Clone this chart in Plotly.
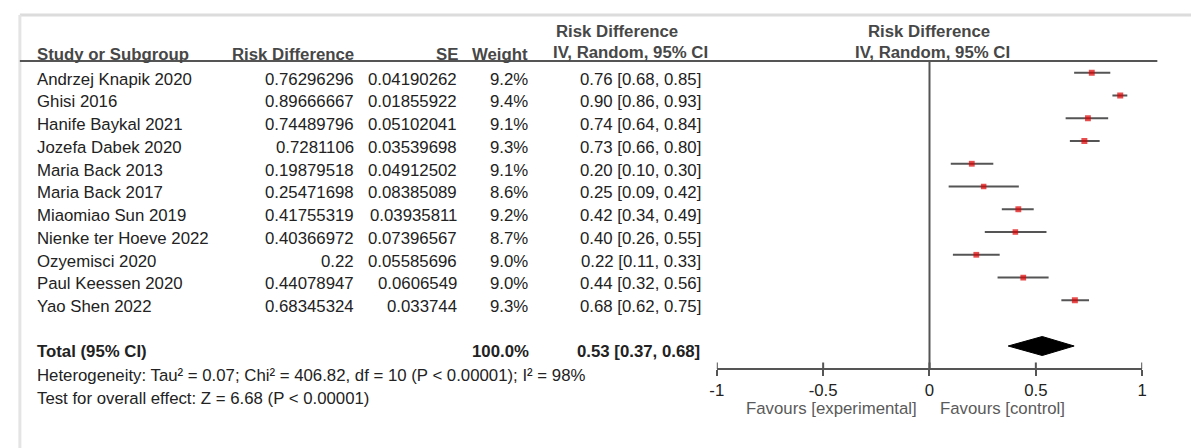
import plotly.graph_objects as go

# ---------------- data ----------------
studies = ["Andrzej Knapik 2020", "Ghisi 2016", "Hanife Baykal 2021", "Jozefa Dabek 2020",
           "Maria Back 2013", "Maria Back 2017", "Miaomiao Sun 2019", "Nienke ter Hoeve 2022",
           "Ozyemisci 2020", "Paul Keessen 2020", "Yao Shen 2022"]
rd = [0.76296296, 0.89666667, 0.74489796, 0.7281106, 0.19879518, 0.25471698,
      0.41755319, 0.40366972, 0.22, 0.44078947, 0.68345324]
se = [0.04190262, 0.01855922, 0.05102041, 0.03539698, 0.04912502, 0.08385089,
      0.03935811, 0.07396567, 0.05585696, 0.0606549, 0.033744]
weight = [9.2, 9.4, 9.1, 9.3, 9.1, 8.6, 9.2, 8.7, 9.0, 9.0, 9.3]
ci_low = [0.68, 0.86, 0.64, 0.66, 0.10, 0.09, 0.34, 0.26, 0.11, 0.32, 0.62]
ci_high = [0.85, 0.93, 0.84, 0.80, 0.30, 0.42, 0.49, 0.55, 0.33, 0.56, 0.75]
total_est, total_low, total_high = 0.53, 0.37, 0.68
total_weight = 100.0
heterogeneity = "Heterogeneity: Tau² = 0.07; Chi² = 406.82, df = 10 (P < 0.00001); I² = 98%"
overall = "Test for overall effect: Z = 6.68 (P < 0.00001)"
tick_vals = [-1, -0.5, 0, 0.5, 1]
tick_text = ["-1", "-0.5", "0", "0.5", "1"]
fav_left = "Favours [experimental]"
fav_right = "Favours [control]"

# ---------------- layout constants (pixels) ----------------
W, H = 1196, 448
FONT = "Arial, Liberation Sans, sans-serif"
FS = 16.8
TXT = "#222222"
HDR = "#474747"
GRID = "#555555"
row0, step = 72.7, 22.76          # mark centre of first study row / row spacing
txt_off = 6.3                     # text centre sits a bit lower than the mark
total_y = 346
axis_y = 369
hdr_line_y = 61
x_left_px, x_right_px = 717, 1146.7

def px(x):
    return x / W

def py(y):
    return 1 - y / H

row_y = [row0 + i * step for i in range(len(studies))]

fig = go.Figure()

# whiskers
wx, wy = [], []
for lo, hi, y in zip(ci_low, ci_high, row_y):
    wx += [lo, hi, None]
    wy += [y, y, None]
fig.add_trace(go.Scatter(x=wx, y=wy, mode="lines",
                         line=dict(color=GRID, width=2), hoverinfo="skip"))
# squares
fig.add_trace(go.Scatter(x=rd, y=row_y, mode="markers",
                         marker=dict(symbol="square", color="#e00000",
                                     size=[w * 0.64 for w in weight], line=dict(width=0)),
                         hoverinfo="skip"))
# diamond
fig.add_trace(go.Scatter(x=[total_low, total_est, total_high, total_est, total_low],
                         y=[total_y, total_y - 9.5, total_y, total_y + 9.5, total_y],
                         mode="lines", fill="toself", fillcolor="black",
                         line=dict(color="black", width=1), hoverinfo="skip"))
# tick stubs above the axis
tx, ty = [], []
for t in tick_vals:
    tx += [t, t, None]
    ty += [axis_y - 6.5, axis_y, None]
fig.add_trace(go.Scatter(x=tx, y=ty, mode="lines",
                         line=dict(color=GRID, width=2), hoverinfo="skip"))

shapes = []
# frame
shapes.append(dict(type="line", xref="paper", yref="paper", x0=px(13), x1=1, y0=py(15), y1=py(15),
                   line=dict(color="#dcdcdc", width=3)))
shapes.append(dict(type="line", xref="paper", yref="paper", x0=px(13), x1=px(13), y0=py(15), y1=0,
                   line=dict(color="#e4e4e4", width=3)))
# header underline
shapes.append(dict(type="line", xref="paper", yref="paper", x0=px(13), x1=px(1162),
                   y0=py(hdr_line_y), y1=py(hdr_line_y), line=dict(color=GRID, width=2)))
# zero line
shapes.append(dict(type="line", xref="x", yref="y", x0=0, x1=0, y0=hdr_line_y, y1=axis_y,
                   line=dict(color=GRID, width=2)))

ann = []

def text(x, y, s, anchor="left", bold=False, color=TXT, size=FS):
    ann.append(dict(xref="paper", yref="paper", x=px(x), y=py(y), text=("<b>%s</b>" % s) if bold else s,
                    xanchor=anchor, yanchor="middle", showarrow=False,
                    font=dict(family=FONT, size=size, color=color)))

# headers
text(28, 54, "Study or Subgroup", bold=True, color=HDR)
text(353, 54, "Risk Difference", "right", bold=True, color=HDR)
text(458, 54, "SE", "right", bold=True, color=HDR)
text(528, 54, "Weight", "right", bold=True, color=HDR)
text(616, 31, "Risk Difference", "center", bold=True, color=HDR)
text(630, 53, "IV, Random, 95% CI", "center", bold=True, color=HDR)
text(931, 31, "Risk Difference", "center", bold=True, color=HDR)
text(935, 53, "IV, Random, 95% CI", "center", bold=True, color=HDR)

# study rows
for i, name in enumerate(studies):
    y = row_y[i] + txt_off
    text(28, y, name)
    text(353, y, str(rd[i]), "right")
    text(457, y, str(se[i]), "right")
    text(528, y, "%.1f%%" % weight[i], "right")
    text(703, y, "%.2f [%.2f, %.2f]" % (rd[i], ci_low[i], ci_high[i]), "right")

# total
ty_t = total_y + 5
text(28, ty_t, "Total (95% CI)", bold=True)
text(529, ty_t, "%.1f%%" % total_weight, "right", bold=True)
text(702, ty_t, "%.2f [%.2f, %.2f]" % (total_est, total_low, total_high), "right", bold=True)
text(28, 375, heterogeneity)
text(28, 398, overall)

# favours
text(921, 408, fav_left, "right", color="#5a5a5a")
text(940, 408, fav_right, "left", color="#5a5a5a")

fig.update_layout(
    width=W, height=H, autosize=False,
    margin=dict(l=0, r=0, t=0, b=0),
    paper_bgcolor="white", plot_bgcolor="rgba(0,0,0,0)",
    showlegend=False,
    shapes=shapes, annotations=ann,
    xaxis=dict(domain=[px(x_left_px), px(x_right_px)], range=[-1, 1],
               anchor="free", position=py(axis_y),
               showline=True, linecolor=GRID, linewidth=2,
               ticks="outside", ticklen=6, tickwidth=2, tickcolor=GRID,
               tickvals=tick_vals, ticktext=tick_text,
               tickfont=dict(family=FONT, size=FS, color=TXT),
               showgrid=False, zeroline=False, fixedrange=True),
    yaxis=dict(domain=[0, 1], range=[H, 0], visible=False, fixedrange=True),
)

fig.write_html("out.html", config={"displayModeBar": False},
               post_script="document.body.style.margin='0';")
